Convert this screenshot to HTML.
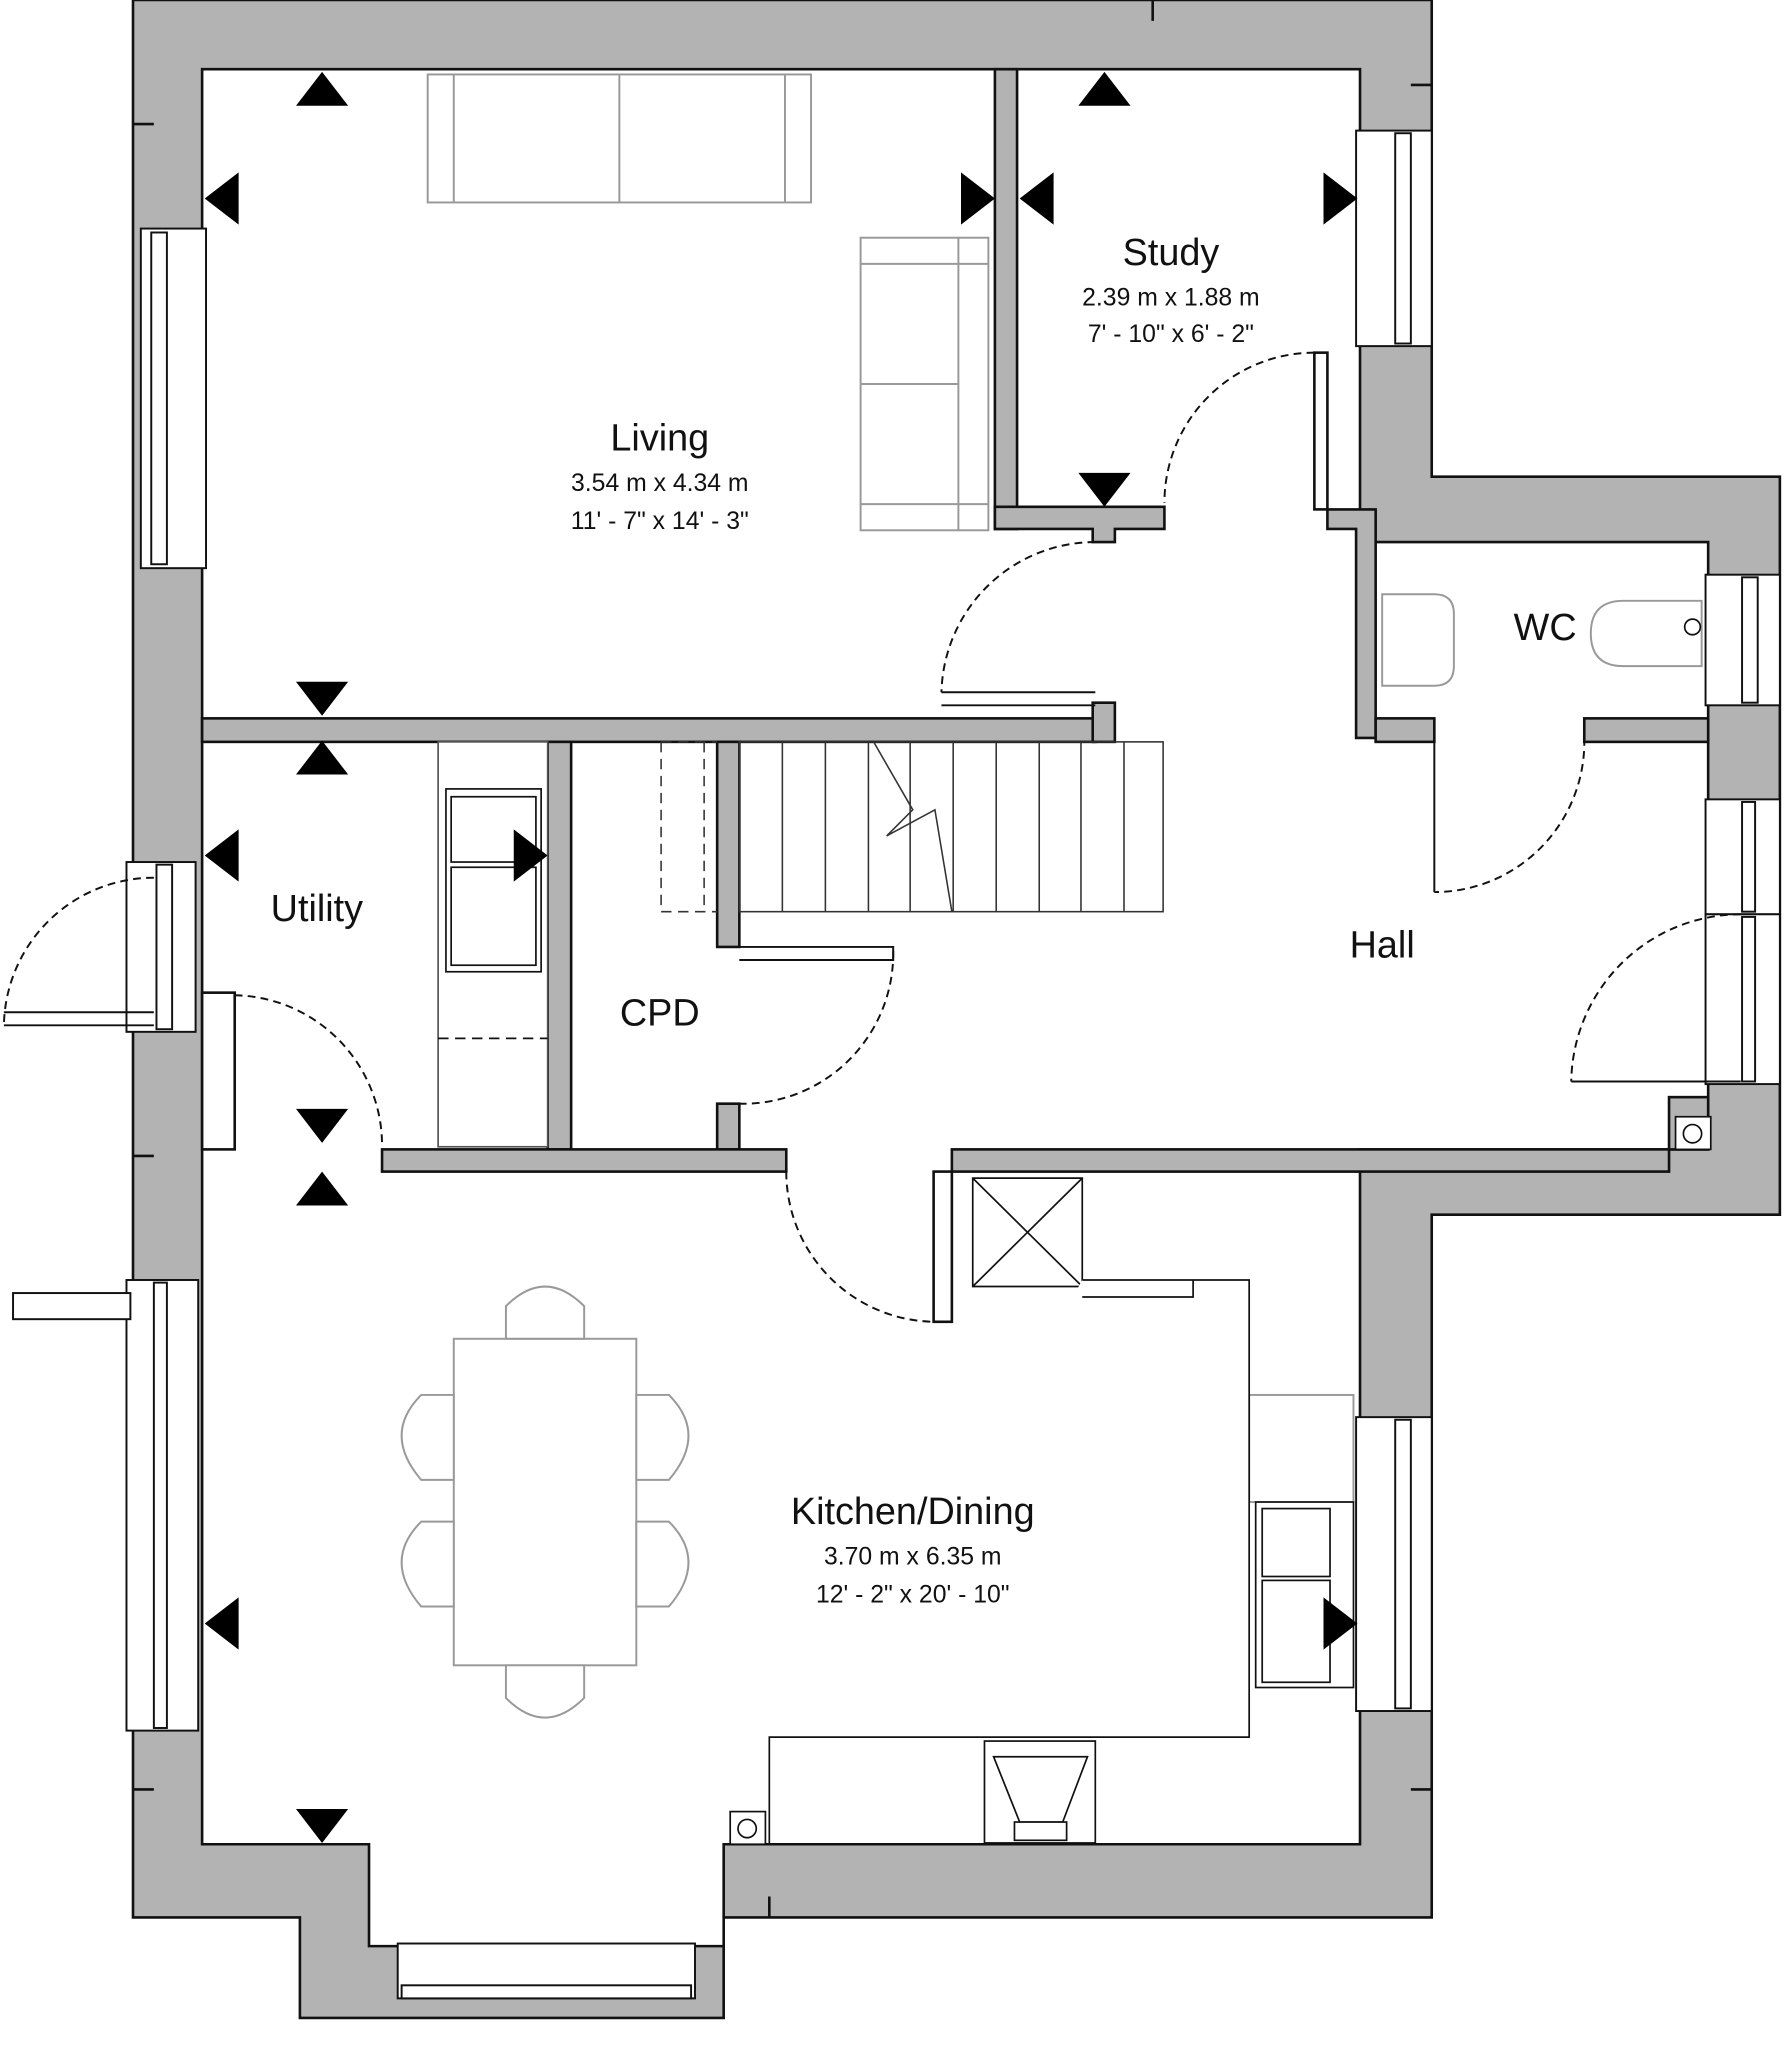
<!DOCTYPE html>
<html><head><meta charset="utf-8"><style>html,body{margin:0;padding:0;background:#fff}svg{display:block}</style></head><body>
<svg width="1789" height="2048" viewBox="0 0 1372 1568" preserveAspectRatio="none" xmlns="http://www.w3.org/2000/svg" font-family="Liberation Sans, sans-serif">
<!-- outer walls -->
<path d="M102,0 H1098 V365 H1365 V930 H1098 V1468 H555 V1545 H230 V1468 H102 Z" fill="#b3b3b3" stroke="#111" stroke-width="2"/>
<!-- interior -->
<path d="M155,53 H1043 V415 H1310 V880 H1043 V1412 H555 V1490 H283 V1412 H155 Z" fill="#fff" stroke="#111" stroke-width="2"/>
<g fill="#b3b3b3" stroke="#111" stroke-width="2">
<rect x="763" y="53" width="17" height="352"/>
<path d="M763,388 H893 V405 H855 V415 H838 V405 H763 Z"/>
<path d="M1018,390 H1055 V565 H1040 V405 H1018 Z"/>
<rect x="1055" y="550" width="45" height="18"/>
<rect x="1215" y="550" width="95" height="18"/>
<rect x="155" y="550" width="685" height="18"/>
<rect x="838" y="538" width="17" height="30"/>
<rect x="420" y="568" width="18" height="312"/>
<rect x="550" y="568" width="17" height="157"/>
<rect x="550" y="845" width="17" height="35"/>
<rect x="293" y="880" width="310" height="17"/>
<rect x="730" y="880" width="550" height="17"/>
<rect x="1280" y="840" width="30" height="40"/>
<rect x="155" y="760" width="25" height="120" fill="#fff"/>
<rect x="1008" y="270" width="10" height="120" fill="#fff"/>
<rect x="716" y="897" width="14" height="115" fill="#fff"/>
</g>
<!-- windows/doors in outer walls -->
<g fill="#fff" stroke="#111" stroke-width="1.5">
<rect x="108" y="175" width="50" height="260"/><rect x="116" y="178" width="12" height="254"/>
<rect x="97" y="660" width="53" height="130"/><rect x="120" y="662" width="12" height="126"/>
<rect x="97" y="980" width="55" height="345"/><rect x="118" y="982" width="10" height="341"/>
<rect x="1040" y="100" width="58" height="165"/><rect x="1070" y="102" width="12" height="161"/>
<rect x="1308" y="440" width="57" height="100"/><rect x="1336" y="442" width="12" height="96"/>
<rect x="1308" y="612" width="57" height="88"/><rect x="1336" y="614" width="10" height="84"/>
<rect x="1308" y="700" width="57" height="130"/><rect x="1336" y="702" width="10" height="126"/>
<rect x="1040" y="1085" width="58" height="225"/><rect x="1070" y="1087" width="12" height="221"/>
<rect x="305" y="1488" width="228" height="42"/><rect x="308" y="1520" width="222" height="10"/>
<rect x="10" y="990" width="90" height="20"/>
</g>
<!-- door swings -->
<g fill="none" stroke="#111" stroke-width="1.5" stroke-dasharray="6,4">
<path d="M1008,270 A115,115 0 0 0 893,385"/>
<path d="M840,415 A118,118 0 0 0 722,530"/>
<path d="M1215,565 A115,115 0 0 1 1100,683"/>
<path d="M1335,700 A130,130 0 0 0 1205,828"/>
<path d="M118,672 A115,115 0 0 0 3,785"/>
<path d="M180,762 A115,115 0 0 1 293,877"/>
<path d="M685,728 A115,115 0 0 1 567,845"/>
<path d="M603,897 A115,115 0 0 0 718,1012"/>
</g>
<g stroke="#111" stroke-width="1.5" fill="none">
<path d="M722,530 H840 M722,540 H840"/>
<path d="M3,775 H118 M3,785 H118"/>
<path d="M1205,828 H1335"/>
<path d="M1100,565 V683"/>
<path d="M567,725 H685 V735 H567"/>
</g>
<!-- stairs -->
<g stroke="#333" stroke-width="1.2" fill="none">
<rect x="567" y="568" width="325" height="130"/>
<path d="M600,568V698 M633,568V698 M666,568V698 M698,568V698 M731,568V698 M764,568V698 M797,568V698 M829,568V698 M862,568V698"/>
<path d="M507,568V698 M540,568V698" stroke-dasharray="8,5"/>
<path d="M507,568H550 M507,698H550" stroke-dasharray="8,5"/>
<path d="M670,568 L700,620 L680,640 L717,620 L730,698"/>
</g>
<!-- furniture -->
<g stroke="#999" stroke-width="1.5" fill="#fff">
<rect x="328" y="57" width="294" height="98"/><path d="M348,57V155 M602,57V155 M475,57V155"/>
<rect x="660" y="182" width="98" height="224"/><path d="M660,202H758 M660,386H758 M735,182V406 M660,294H735"/>
<rect x="348" y="1025" width="140" height="250"/>
<path d="M388,1025 v-25 q30,-30 60,0 v25 z"/><path d="M388,1275 v25 q30,30 60,0 v-25 z"/>
<path d="M348,1068 h-25 q-30,30 0,65 h25 z"/><path d="M348,1165 h-25 q-30,30 0,65 h25 z"/>
<path d="M488,1068 h25 q30,30 0,65 h-25 z"/><path d="M488,1165 h25 q30,30 0,65 h-25 z"/>
<path d="M1060,455 h40 q15,0 15,15 v40 q0,15 -15,15 h-40 z"/>
<path d="M1305,460 h-60 q-25,0 -25,25 q0,25 25,25 h60 z"/>
<rect x="958" y="1068" width="80" height="82"/>
</g>
<g stroke="#111" stroke-width="1.3" fill="#fff">
<rect x="336" y="568" width="84" height="310" stroke="#555"/>
<rect x="342" y="604" width="73" height="140"/><rect x="346" y="610" width="65" height="50"/><rect x="346" y="664" width="65" height="75"/>
<path d="M336,795H420" stroke-dasharray="8,5"/>
<path d="M746,902H830V985H746Z M746,902L830,985 M830,902L746,985" />
<path d="M830,980 H958 V1330 H590 V1412 M915,980 V993 H830"/>
<rect x="963" y="1150" width="75" height="142"/><rect x="968" y="1155" width="52" height="52"/><rect x="968" y="1210" width="52" height="78"/>
<rect x="755" y="1333" width="85" height="78"/><path d="M762,1345H834L815,1395H782Z"/><rect x="778" y="1395" width="40" height="14"/>
<rect x="560" y="1387" width="27" height="25"/><circle cx="573" cy="1400" r="7"/>
<rect x="1285" y="855" width="27" height="25"/><circle cx="1298" cy="868" r="7"/>
<circle cx="1298" cy="480" r="6"/>
</g>
<!-- arrows -->
<g fill="#000">
<polygon points="247,55 227,81 267,81"/><polygon points="847,55 827,81 867,81"/><polygon points="247,567 227,593 267,593"/><polygon points="247,897 227,923 267,923"/>
<polygon points="247,548 227,522 267,522"/><polygon points="847,388 827,362 867,362"/><polygon points="247,875 227,849 267,849"/><polygon points="247,1411 227,1385 267,1385"/>
<polygon points="157,152 183,132 183,172"/><polygon points="782,152 808,132 808,172"/><polygon points="157,655 183,635 183,675"/><polygon points="157,1243 183,1223 183,1263"/>
<polygon points="763,152 737,132 737,172"/><polygon points="1041,152 1015,132 1015,172"/><polygon points="420,655 394,635 394,675"/><polygon points="1041,1243 1015,1223 1015,1263"/>
</g>
<g stroke="#111" stroke-width="2"><path d="M884,0V16 M102,95H118 M102,885H118 M102,1370H118 M1082,65H1098 M1082,1370H1098 M590,1468V1452"/></g>
<!-- labels -->
<g fill="#111" text-anchor="middle">
<text x="506" y="345" font-size="29">Living</text>
<text x="506" y="376" font-size="19">3.54 m x  4.34 m</text>
<text x="506" y="405" font-size="19">11' - 7" x  14' - 3"</text>
<text x="898" y="203" font-size="29">Study</text>
<text x="898" y="234" font-size="19">2.39 m x  1.88 m</text>
<text x="898" y="262" font-size="19">7' - 10" x  6' - 2"</text>
<text x="1185" y="490" font-size="29">WC</text>
<text x="243" y="705" font-size="29">Utility</text>
<text x="506" y="785" font-size="29">CPD</text>
<text x="1060" y="733" font-size="29">Hall</text>
<text x="700" y="1167" font-size="29">Kitchen/Dining</text>
<text x="700" y="1198" font-size="19">3.70 m x  6.35 m</text>
<text x="700" y="1227" font-size="19">12' - 2" x  20' - 10"</text>
</g>
</svg>
</body></html>
